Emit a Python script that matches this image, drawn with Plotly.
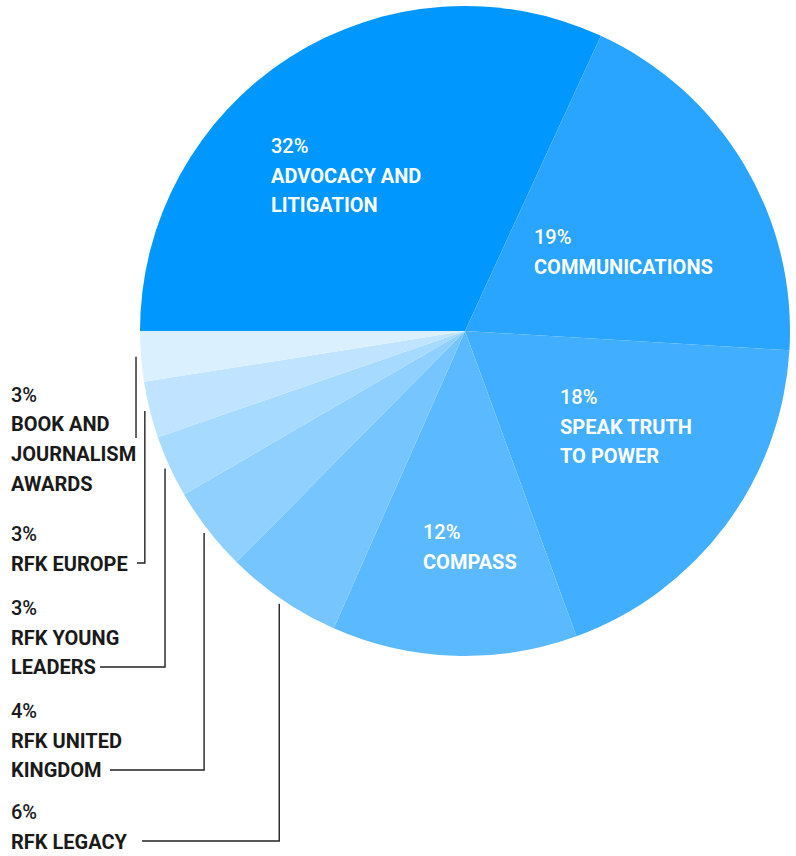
import math
import plotly.graph_objects as go

# ---- data ----
labels = ["ADVOCACY AND LITIGATION", "COMMUNICATIONS", "SPEAK TRUTH TO POWER", "COMPASS",
          "RFK LEGACY", "RFK UNITED KINGDOM", "RFK YOUNG LEADERS", "RFK EUROPE",
          "BOOK AND JOURNALISM AWARDS"]
values = [31.9, 19.1, 18.5, 12.2, 5.8, 4.2, 3.1, 2.8, 2.5]
pct_text = ["32%", "19%", "18%", "12%", "6%", "4%", "3%", "3%", "3%"]
label_lines = [["ADVOCACY AND", "LITIGATION"], ["COMMUNICATIONS"], ["SPEAK TRUTH", "TO POWER"],
               ["COMPASS"], ["RFK LEGACY"], ["RFK UNITED", "KINGDOM"], ["RFK YOUNG", "LEADERS"],
               ["RFK EUROPE"], ["BOOK AND", "JOURNALISM", "AWARDS"]]
colors = ["#0097FF", "#29A4FF", "#41AEFF", "#5BBAFF", "#76C5FF", "#8FD0FF", "#A7DAFF",
          "#C0E4FF", "#DAF0FF"]

# ---- layout constants (pixels) ----
W, H = 796, 856
PIE_L, PIE_R, PIE_T, PIE_B = 140, 790, 6, 656
FONT = "Roboto"
FS = 20
LH = 29.5

# label placement: (x_left, first line center y, color)
label_pos = [
    (270, 146, "white"),
    (533, 237, "white"),
    (559, 397, "white"),
    (422, 532, "white"),
    (10, 812, "#1a1a1a"),
    (10, 711, "#1a1a1a"),
    (10, 608, "#1a1a1a"),
    (10, 534, "#1a1a1a"),
    (10, 395, "#1a1a1a"),
]
# leader line ends for outside labels: index -> (vertical end y, horizontal end x or None)
leader = {
    4: (841, 142),
    5: (770, 110),
    6: (667, 100),
    7: (563, 137),
    8: (438, None),
}


def px(x):
    return x / W


def py(y):
    return 1 - y / H


fig = go.Figure(go.Pie(
    labels=labels, values=values, sort=False, direction="clockwise", rotation=270,
    marker=dict(colors=colors, line=dict(width=0)), textinfo="none", hoverinfo="label+percent",
    showlegend=False,
    domain=dict(x=[px(PIE_L), px(PIE_R)], y=[py(PIE_B), py(PIE_T)]),
))

annotations = []
total = sum(values)
for i, lines in enumerate(label_lines):
    x0, yc, col = label_pos[i]
    rows = [(pct_text[i], 500)] + [(ln, 700) for ln in lines]
    for k, (t, wt) in enumerate(rows):
        annotations.append(dict(
            x=px(x0), y=py(yc + k * LH), xref="paper", yref="paper",
            xanchor="left", yanchor="middle", align="left", showarrow=False,
            text=t, borderpad=0,
            font=dict(family=FONT, size=FS, color=col, weight=wt),
        ))

# leader lines from slice midpoints (computed from data)
cx, cy = (PIE_L + PIE_R) / 2, (PIE_T + PIE_B) / 2
R = (PIE_R - PIE_L) / 2
shapes = []
cum = 0
for i, v in enumerate(values):
    fmid = (cum + v / 2) / total
    cum += v
    if i not in leader:
        continue
    theta = math.radians(180 - 360 * fmid)
    r = R + 5
    sx = cx + r * math.cos(theta)
    sy = cy - r * math.sin(theta)
    yend, xend = leader[i]
    path = f"M{px(sx)},{py(sy)} L{px(sx)},{py(yend)}"
    if xend is not None:
        path += f" L{px(xend)},{py(yend)}"
    shapes.append(dict(type="path", xref="paper", yref="paper", path=path,
                       line=dict(color="#222222", width=1.4)))

fig.update_layout(
    width=W, height=H, margin=dict(l=0, r=0, t=0, b=0),
    paper_bgcolor="white", plot_bgcolor="white",
    annotations=annotations, shapes=shapes,
)
fig.write_html(
    "out.html",
    config={"displayModeBar": False},
    post_script="document.body.style.margin='0';document.body.style.overflow='hidden';",
)
